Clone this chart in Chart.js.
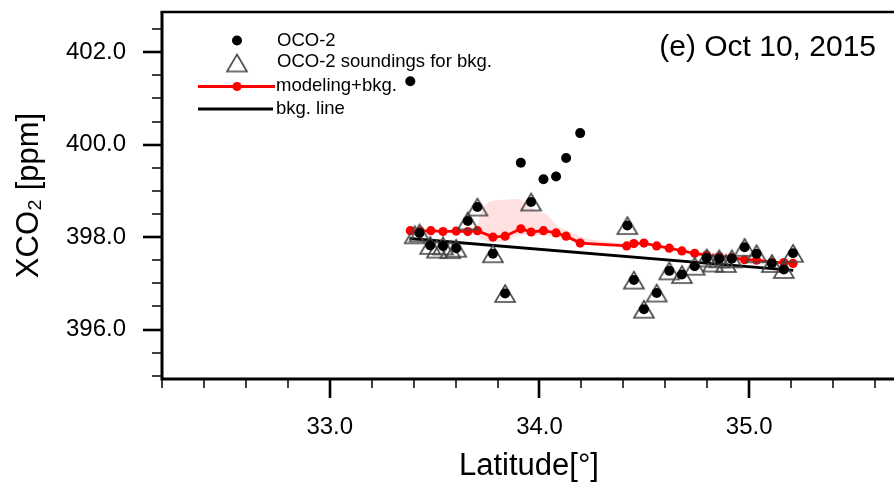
<!DOCTYPE html>
<html>
<head>
<meta charset="utf-8">
<script src="https://cdn.jsdelivr.net/npm/chart.js@4.4.0/dist/chart.umd.min.js"></script>
<style>
  html, body { margin: 0; padding: 0; background: #fff; overflow: hidden; }
  canvas { display: block; }
</style>
</head>
<body>
<canvas id="chart" width="910" height="485"></canvas>
<script>
// OCO-2 XCO2 soundings (black dots)
const ocoLat = [33.384, 33.428, 33.479, 33.540, 33.603, 33.658, 33.704, 33.778, 33.836, 33.911,
  33.960, 34.019, 34.079, 34.127, 34.194, 34.419, 34.450, 34.498, 34.559, 34.619,
  34.679, 34.740, 34.797, 34.857, 34.917, 34.978, 35.035, 35.108, 35.165, 35.209];
const ocoVal = [401.37, 398.09, 397.82, 397.81, 397.76, 398.35, 398.65, 397.64, 396.78, 399.61,
  398.76, 399.25, 399.31, 399.71, 400.25, 398.25, 397.07, 396.44, 396.79, 397.27,
  397.19, 397.37, 397.55, 397.53, 397.53, 397.78, 397.64, 397.43, 397.30, 397.65];

// soundings used for the background (triangles)
const bkgSoundLat = [33.405, 33.428, 33.479, 33.511, 33.540, 33.575, 33.603, 33.658, 33.704, 33.778,
  33.836, 33.960, 34.419, 34.450, 34.498, 34.559, 34.619, 34.679, 34.740, 34.797,
  34.828, 34.857, 34.889, 34.917, 34.978, 35.035, 35.108, 35.165, 35.209];
const bkgSoundVal = [398.05, 398.09, 397.82, 397.74, 397.81, 397.73, 397.76, 398.35, 398.65, 397.64,
  396.78, 398.76, 398.25, 397.07, 396.44, 396.79, 397.27, 397.19, 397.37, 397.55,
  397.44, 397.53, 397.43, 397.53, 397.78, 397.64, 397.43, 397.30, 397.65];

// modeling + background (red)
const modelLat = [33.384, 33.431, 33.482, 33.540, 33.603, 33.658, 33.704, 33.778, 33.836, 33.911,
  33.960, 34.019, 34.079, 34.127, 34.194, 34.416, 34.450, 34.498, 34.559, 34.619,
  34.679, 34.740, 34.797, 34.857, 34.917, 34.978, 35.035, 35.108, 35.165, 35.209];
const modelVal = [398.14, 398.13, 398.14, 398.12, 398.13, 398.12, 398.14, 398.00, 398.02, 398.18,
  398.11, 398.14, 398.09, 398.02, 397.87, 397.81, 397.86, 397.87, 397.81, 397.76,
  397.70, 397.65, 397.61, 397.58, 397.56, 397.51, 397.50, 397.46, 397.45, 397.43];

// background line
const bkgLineLat = [33.38, 35.21];
const bkgLineVal = [397.97, 397.28];

// model spread (pink shading)
const spreadLat = [33.702, 33.727, 33.765, 33.837, 33.908, 33.988, 34.035, 34.083, 34.146, 34.226, 34.351, 34.416];
const spreadHigh = [398.19, 398.60, 398.77, 398.81, 398.81, 398.56, 398.49, 398.25, 398.11, 397.97, 397.89, 397.87];
const spreadLow = [398.08, 397.95, 397.89, 397.92, 398.04, 398.04, 398.03, 398.00, 397.93, 397.86, 397.81, 397.81];

const xMajor = [33, 34, 35];
const yMajor = [396, 398, 400, 402];

const FONT = '"Liberation Sans", Arial, Helvetica, sans-serif';

const pts = (xs, ys) => xs.map((x, i) => ({ x, y: ys[i] }));

function makeTriangle(w, h, color) {
  const c = document.createElement('canvas');
  c.width = w + 4;
  c.height = h + 4;
  const g = c.getContext('2d');
  g.strokeStyle = color;
  g.lineWidth = 1.6;
  g.beginPath();
  g.moveTo(c.width / 2, 2);
  g.lineTo(c.width - 2, c.height - 2);
  g.lineTo(2, c.height - 2);
  g.closePath();
  g.stroke();
  return c;
}
const tri = makeTriangle(20, 17, '#444');

// frame, outward ticks, legend and panel label
const decor = {
  id: 'decor',
  afterDraw(chart) {
    const { ctx, chartArea: a, scales: { x, y } } = chart;
    ctx.save();
    ctx.strokeStyle = '#000';
    ctx.lineCap = 'butt';

    // x ticks every 0.2
    for (let k = 161; k <= 178; k++) {
      const v = k / 5;
      const px = Math.round(x.getPixelForValue(v));
      const major = k % 5 === 0;
      ctx.lineWidth = major ? 2.6 : 1.5;
      ctx.beginPath();
      ctx.moveTo(px, a.bottom);
      ctx.lineTo(px, a.bottom + (major ? 19 : 9));
      ctx.stroke();
    }
    // y ticks every 0.5
    for (let k = 790; k <= 805; k++) {
      const v = k / 2;
      const py = Math.round(y.getPixelForValue(v));
      const major = yMajor.includes(v);
      ctx.lineWidth = major ? 2.6 : 1.5;
      ctx.beginPath();
      ctx.moveTo(a.left, py);
      ctx.lineTo(a.left - (major ? 19 : 10), py);
      ctx.stroke();
    }

    // frame
    ctx.lineWidth = 3;
    ctx.beginPath();
    ctx.moveTo(a.left, a.top);
    ctx.lineTo(a.left, a.bottom);
    ctx.lineTo(a.right, a.bottom);
    ctx.stroke();
    ctx.lineWidth = 2.5;
    ctx.beginPath();
    ctx.moveTo(a.left - 1.5, a.top);
    ctx.lineTo(a.right, a.top);
    ctx.stroke();

    // legend
    ctx.font = '18.5px ' + FONT;
    ctx.fillStyle = '#000';
    ctx.textBaseline = 'middle';
    ctx.textAlign = 'left';

    ctx.beginPath();
    ctx.arc(237, 40.5, 5, 0, Math.PI * 2);
    ctx.fill();
    ctx.fillText('OCO-2', 277, 41);

    ctx.drawImage(tri, 237 - tri.width / 2, 63 - tri.height / 2);
    ctx.fillText('OCO-2 soundings for bkg.', 277, 62);

    ctx.strokeStyle = '#ff0000';
    ctx.lineWidth = 2.8;
    ctx.beginPath();
    ctx.moveTo(198, 86.5);
    ctx.lineTo(275, 86.5);
    ctx.stroke();
    ctx.fillStyle = '#ff0000';
    ctx.beginPath();
    ctx.arc(237, 86.5, 4.6, 0, Math.PI * 2);
    ctx.fill();
    ctx.fillStyle = '#000';
    ctx.fillText('modeling+bkg.', 276, 85.5);

    ctx.strokeStyle = '#000';
    ctx.beginPath();
    ctx.moveTo(198, 109);
    ctx.lineTo(273, 109);
    ctx.stroke();
    ctx.fillText('bkg. line', 276, 108.5);

    // panel label
    ctx.font = '30px ' + FONT;
    ctx.textAlign = 'right';
    ctx.fillText('(e) Oct 10, 2015', 876, 48);

    ctx.restore();
  }
};

new Chart(document.getElementById('chart'), {
  type: 'scatter',
  data: {
    datasets: [
      {
        label: 'spread high',
        data: pts(spreadLat, spreadHigh),
        showLine: true,
        borderWidth: 0,
        borderColor: 'rgba(0,0,0,0)',
        pointRadius: 0,
        backgroundColor: 'rgba(255,120,120,0.22)',
        fill: '+1',
        tension: 0.3,
        order: 5,
      },
      {
        label: 'spread low',
        data: pts(spreadLat, spreadLow),
        showLine: true,
        borderWidth: 0,
        borderColor: 'rgba(0,0,0,0)',
        pointRadius: 0,
        fill: false,
        tension: 0.3,
        order: 6,
      },
      {
        label: 'bkg. line',
        data: pts(bkgLineLat, bkgLineVal),
        showLine: true,
        borderColor: '#000',
        borderWidth: 2.8,
        pointRadius: 0,
        order: 4,
      },
      {
        label: 'modeling+bkg.',
        data: pts(modelLat, modelVal),
        showLine: true,
        borderColor: '#ff0000',
        borderWidth: 2.8,
        backgroundColor: '#ff0000',
        pointRadius: 4.6,
        pointBorderWidth: 0,
        order: 3,
      },
      {
        label: 'OCO-2 soundings for bkg.',
        data: pts(bkgSoundLat, bkgSoundVal),
        pointStyle: tri,
        order: 2,
      },
      {
        label: 'OCO-2',
        data: pts(ocoLat, ocoVal),
        backgroundColor: '#000',
        pointRadius: 5,
        pointBorderWidth: 0,
        order: 1,
      },
    ],
  },
  options: {
    responsive: false,
    animation: false,
    layout: { padding: { top: 12, right: 14, left: 0, bottom: 0 } },
    plugins: { legend: { display: false }, tooltip: { enabled: false } },
    scales: {
      x: {
        type: 'linear',
        min: 32.2,
        max: 35.7,
        afterFit: (s) => { s.height = 106; s.paddingLeft = 0; s.paddingRight = 0; },
        grid: { display: false, drawTicks: false },
        border: { display: false },
        ticks: {
          stepSize: 1,
          includeBounds: false,
          padding: 34,
          color: '#000',
          font: { family: FONT, size: 24 },
          callback: (v) => (xMajor.includes(v) ? v.toFixed(1) : ''),
        },
        title: {
          display: true,
          text: 'Latitude[°]',
          color: '#000',
          font: { family: FONT, size: 31 },
          padding: { top: 0, bottom: 0 },
        },
      },
      y: {
        min: 394.93,
        max: 402.87,
        afterFit: (s) => { s.width = 162; s.paddingTop = 0; s.paddingBottom = 0; },
        grid: { display: false, drawTicks: false },
        border: { display: false },
        ticks: {
          stepSize: 2,
          includeBounds: false,
          padding: 36,
          color: '#000',
          font: { family: FONT, size: 24 },
          callback: (v) => (yMajor.includes(v) ? v.toFixed(1) : ''),
        },
        title: {
          display: true,
          text: 'XCO₂ [ppm]',
          color: '#000',
          font: { family: FONT, size: 31 },
          padding: { top: 11, bottom: 2 },
        },
      },
    },
  },
  plugins: [decor],
});
</script>
</body>
</html>
